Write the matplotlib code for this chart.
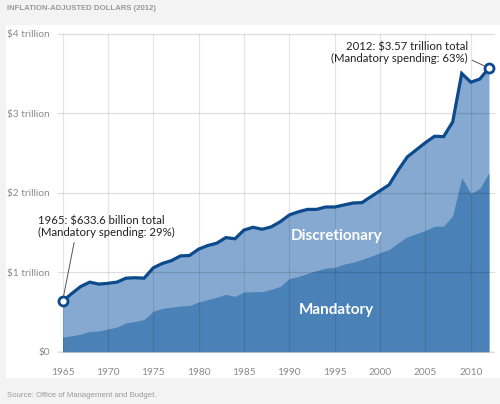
import matplotlib
matplotlib.use("Agg")
import matplotlib.pyplot as plt
from matplotlib.patches import Rectangle

years = list(range(1965, 2013))
total = [0.634, 0.73, 0.82, 0.875, 0.85, 0.86, 0.875, 0.925, 0.93, 0.925,
         1.055, 1.11, 1.145, 1.205, 1.21, 1.29, 1.335, 1.365, 1.435, 1.42,
         1.53, 1.565, 1.54, 1.57, 1.635, 1.72, 1.76, 1.79, 1.79, 1.82,
         1.82, 1.845, 1.87, 1.875, 1.95, 2.025, 2.10, 2.285, 2.45, 2.54,
         2.63, 2.71, 2.705, 2.89, 3.50, 3.39, 3.43, 3.57]
mandatory = [0.184, 0.20, 0.22, 0.255, 0.26, 0.285, 0.31, 0.362, 0.38, 0.405,
             0.51, 0.545, 0.56, 0.575, 0.58, 0.625, 0.655, 0.685, 0.722, 0.695,
             0.75, 0.755, 0.755, 0.785, 0.82, 0.92, 0.945, 0.985, 1.02, 1.05,
             1.06, 1.10, 1.125, 1.16, 1.20, 1.245, 1.285, 1.37, 1.445, 1.485,
             1.525, 1.578, 1.578, 1.71, 2.19, 1.99, 2.055, 2.25]
ytick_vals = [0, 1, 2, 3, 4]
ytick_labels = ["$0", "$1 trillion", "$2 trillion", "$3 trillion", "$4 trillion"]
xtick_vals = [1965, 1970, 1975, 1980, 1985, 1990, 1995, 2000, 2005, 2010]

light = "#85a9d1"
dark = "#4a81b6"
line_c = "#0c4a8c"

fig = plt.figure(figsize=(5.0, 4.04), dpi=100)
fig.patch.set_facecolor("#f3f3f3")
fig.patches.append(Rectangle((0.012, 0.064), 0.988, 0.873, transform=fig.transFigure,
                             facecolor="white", edgecolor="none", zorder=-5))

ax = fig.add_axes([0.116, 0.1295, 0.871, 0.7871])
ax.set_facecolor("none")
ax.fill_between(years, 0, total, color=light, lw=0, zorder=1)
ax.fill_between(years, 0, mandatory, color=dark, lw=0, zorder=2)
ax.plot(years, total, color=line_c, lw=2.3, zorder=5, solid_joinstyle="miter")
ax.plot([years[0], years[-1]], [total[0], total[-1]], ls="none", marker="o",
        ms=6.5, mfc="white", mec=line_c, mew=2.0, zorder=6, clip_on=False)

for yv in ytick_vals:
    ax.axhline(yv, color="black", alpha=0.13, lw=0.9, zorder=3, clip_on=False)
for xv in xtick_vals:
    ax.axvline(xv, color="black", alpha=0.1, lw=0.9, zorder=3)
ax.axhline(0, color="#999999", lw=0.9, zorder=4)

ax.set_xlim(1964.5, 2012.5)
ax.set_ylim(0, 4)
for s in ax.spines.values():
    s.set_visible(False)
ax.set_yticks(ytick_vals)
ax.set_yticklabels(ytick_labels)
ax.set_xticks(xtick_vals)
ax.tick_params(axis="both", length=0, labelcolor="#8a8a8a", labelsize=7.3)
ax.tick_params(axis="x", pad=12)
ax.tick_params(axis="y", pad=6)
for lab in ax.get_xticklabels() + ax.get_yticklabels():
    lab.set_family("Lato")

ax.text(1995.2, 1.45, "Discretionary", color="white", fontsize=11, fontweight="bold",
        family="Lato", ha="center", va="center", zorder=7)
ax.text(1995.2, 0.52, "Mandatory", color="white", fontsize=11, fontweight="bold",
        family="Lato", ha="center", va="center", zorder=7)

ax.annotate("1965: $633.6 billion total\n(Mandatory spending: 29%)",
            xy=(years[0], total[0]), xytext=(1962.3, 1.57),
            fontsize=8.2, family="Lato", color="#222222", ha="left", va="center",
            linespacing=1.1, annotation_clip=False, zorder=8,
            arrowprops=dict(arrowstyle="-", color="#555555", lw=0.7,
                            shrinkA=1, shrinkB=4,
                            relpos=(0.27, 0.0)))
ax.annotate("2012: $3.57 trillion total\n(Mandatory spending: 63%)",
            xy=(years[-1], total[-1]), xytext=(2009.7, 3.76),
            fontsize=8.2, family="Lato", color="#222222", ha="right", va="center",
            linespacing=1.1, annotation_clip=False, zorder=8,
            arrowprops=dict(arrowstyle="-", color="#555555", lw=0.7,
                            shrinkA=1, shrinkB=4,
                            relpos=(1.0, 0.25)))

fig.text(0.014, 0.978, "INFLATION-ADJUSTED DOLLARS (2012)", fontsize=5.6,
         fontweight="bold", color="#9a9a9a", family="Liberation Sans", ha="left", va="center")
fig.text(0.014, 0.02, "Source: Office of Management and Budget.", fontsize=5.6,
         color="#9a9a9a", family="Liberation Sans", ha="left", va="center")

fig.savefig("out.png", dpi=100, facecolor=fig.get_facecolor())
